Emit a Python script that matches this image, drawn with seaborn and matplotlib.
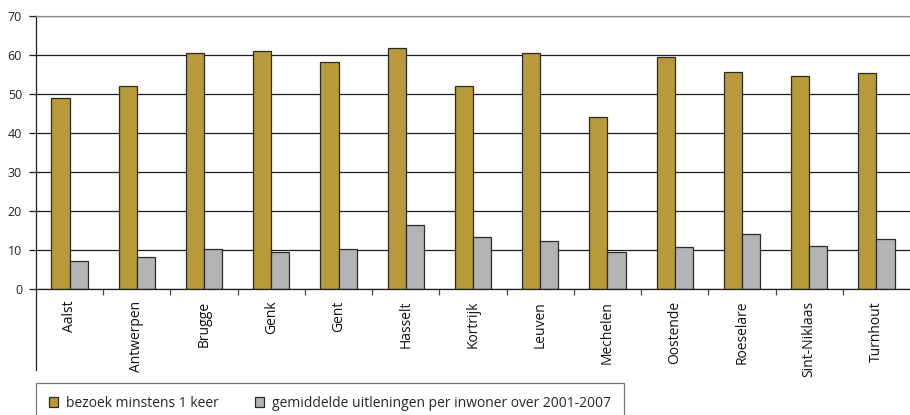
import pandas as pd
import matplotlib.pyplot as plt
import seaborn as sns

# gegevens per stad
steden = ['Aalst', 'Antwerpen', 'Brugge', 'Genk', 'Gent', 'Hasselt', 'Kortrijk',
          'Leuven', 'Mechelen', 'Oostende', 'Roeselare', 'Sint-Niklaas', 'Turnhout']
bezoek = [49.1, 52.1, 60.6, 61.0, 58.3, 61.9, 52.1, 60.6, 44.2, 59.5, 55.7, 54.5, 55.4]
uitleningen = [7.3, 8.2, 10.2, 9.5, 10.2, 16.5, 13.4, 12.2, 9.4, 10.7, 14.0, 10.9, 12.9]
reeksen = ['bezoek minstens 1 keer', 'gemiddelde uitleningen per inwoner over 2001-2007']
kleuren = ['#B89A3A', '#B2B3B5']

df = pd.DataFrame({
    'stad': steden * 2,
    'waarde': bezoek + uitleningen,
    'reeks': [reeksen[0]] * len(steden) + [reeksen[1]] * len(steden),
})

sns.set_style('white')
plt.rcParams['font.family'] = ['Open Sans', 'DejaVu Sans']

fig = plt.figure(figsize=(9.1, 4.15), dpi=100)
ax = fig.add_axes([36 / 910, 126 / 415, 1 - 36 / 910, 273 / 415])

sns.barplot(data=df, x='stad', y='waarde', hue='reeks', palette=kleuren,
            width=0.54, gap=0, edgecolor='#2a2a2a', linewidth=0.9,
            saturation=1, ax=ax, legend=True)

ax.set_ylim(0, 70)
ax.set_xlim(-0.5, len(steden) - 0.5)
ax.set_yticks(range(0, 71, 10))
ax.set_xlabel('')
ax.set_ylabel('')

# rasterlijnen
ax.set_axisbelow(True)
ax.yaxis.grid(True, color='#1e1e1e', linewidth=0.9)
ax.xaxis.grid(False)

for kant in ['left', 'bottom']:
    ax.spines[kant].set_color('#1e1e1e')
    ax.spines[kant].set_linewidth(0.9)
ax.spines['top'].set_visible(True)
ax.spines['top'].set_color('#8a8a8a')
ax.spines['top'].set_linewidth(0.9)
ax.spines['right'].set_visible(False)
ax.spines['left'].set_bounds(-20.8, 70)

ax.tick_params(axis='y', left=True, length=5, width=0.9, color='#1e1e1e',
               labelsize=9, labelcolor='#222222', pad=5)
ax.tick_params(axis='x', bottom=False, labelsize=10, labelcolor='#111111',
               labelrotation=90, pad=5)
ax.set_xticks([i + 0.5 for i in range(len(steden) - 1)], minor=True)
ax.tick_params(axis='x', which='minor', bottom=True, length=4, width=0.9,
               color='#444444')

ax.get_legend().remove()
handles, labels = ax.get_legend_handles_labels()
leg = fig.legend(handles, labels, loc='upper left',
                 bbox_to_anchor=(36 / 910, 1 - 383 / 415), ncol=2,
                 frameon=True, fancybox=False, edgecolor='#555555',
                 prop={'size': 10},
                 handlelength=0.7, handleheight=0.75, handletextpad=0.55,
                 columnspacing=2.6, borderpad=0.9, borderaxespad=0)
leg.get_frame().set_linewidth(0.9)

fig.savefig('out.png', dpi=100)
